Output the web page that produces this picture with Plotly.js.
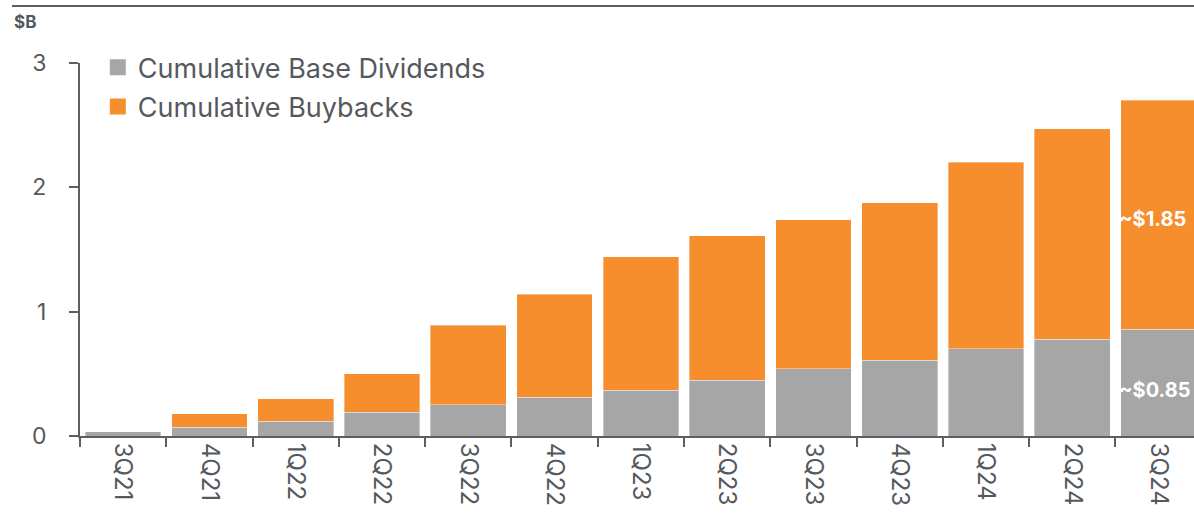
<!DOCTYPE html>
<html>
<head>
<meta charset="utf-8">
<script src="https://cdn.plot.ly/plotly-3.0.1.min.js"></script>
<style>html,body{margin:0;padding:0;background:#fff;}#chart{width:1194px;height:522px;}</style>
</head>
<body>
<div id="chart"></div>
<script>
const quarters = ["3Q21","4Q21","1Q22","2Q22","3Q22","4Q22","1Q23","2Q23","3Q23","4Q23","1Q24","2Q24","3Q24"];
const baseDividends = [0.035,0.07,0.12,0.19,0.25,0.31,0.37,0.45,0.54,0.61,0.70,0.78,0.86];
const buybacks = [0,0.11,0.18,0.31,0.64,0.83,1.07,1.16,1.20,1.265,1.50,1.69,1.84];
const seriesNames = ["Cumulative Base Dividends","Cumulative Buybacks"];
const yTicks = [0,1,2,3];
const labelDiv = "~$0.85";
const labelBuy = "~$1.85";

const GRAY = "#a6a6a6", ORANGE = "#f68e2d", TXT = "#55595e", AX = "#5b5e62";
const FONT = "Inter, 'Open Sans', sans-serif";

const traces = [
  {type:"bar", x:quarters, y:baseDividends, name:seriesNames[0], marker:{color:GRAY, line:{color:"rgba(255,255,255,0.6)", width:0.6}}, showlegend:false, hoverinfo:"skip"},
  {type:"bar", x:quarters, y:buybacks, name:seriesNames[1], marker:{color:ORANGE, line:{color:"rgba(255,255,255,0.6)", width:0.6}}, showlegend:false, hoverinfo:"skip"},
  {type:"scatter", mode:"markers", x:[null], y:[null], name:seriesNames[0], legendgroup:"a", marker:{symbol:"square", size:16, color:GRAY}},
  {type:"scatter", mode:"markers", x:[null], y:[null], name:seriesNames[1], legendgroup:"b", marker:{symbol:"square", size:16, color:ORANGE}}
];

const last = quarters.length - 1;
const layout = {
  width:1194, height:522,
  margin:{l:80, r:0, t:63, b:86, pad:0},
  barmode:"stack", bargap:0.123,
  paper_bgcolor:"#fff", plot_bgcolor:"#fff",
  font:{family:FONT, color:TXT},
  showlegend:true,
  legend:{x:0.016, y:1.053, xanchor:"left", yanchor:"top", font:{size:27, color:TXT, family:FONT}, tracegroupgap:1, traceorder:"grouped", bgcolor:"rgba(0,0,0,0)", itemclick:false},
  xaxis:{type:"category", range:[-0.5, 12.41], tickson:"boundaries", ticks:"outside", ticklen:9, tickwidth:2, tickcolor:AX,
         showline:true, linecolor:AX, linewidth:2, showgrid:false, zeroline:false, tickangle:90,
         tickfont:{size:24, color:TXT, family:FONT}, fixedrange:true},
  yaxis:{range:[0,3], tickvals:yTicks, ticks:"outside", ticklen:9, tickwidth:2, tickcolor:AX, showline:true, linecolor:AX, linewidth:2,
         showgrid:false, zeroline:false, tickfont:{size:23, color:TXT, family:FONT}, ticklabelstandoff:18, fixedrange:true},
  shapes:[{type:"line", xref:"paper", yref:"paper", x0:-0.061, x1:1, y0:1.153, y1:1.153, line:{color:AX, width:2}}],
  annotations:[
    {xref:"paper", yref:"paper", x:-0.061, y:1.11, xanchor:"left", yanchor:"middle", text:"<b>$B</b>", showarrow:false, font:{size:17, color:TXT, family:FONT}},
    {xref:"x", yref:"y", x:last, xshift:-42, y:baseDividends[last] + buybacks[last]*0.48, xanchor:"left", yanchor:"middle", text:"<b>"+labelBuy+"</b>", showarrow:false, font:{size:20, color:"#fff", family:FONT}},
    {xref:"x", yref:"y", x:last, xshift:-42, y:baseDividends[last]*0.43, xanchor:"left", yanchor:"middle", text:"<b>"+labelDiv+"</b>", showarrow:false, font:{size:20, color:"#fff", family:FONT}}
  ]
};
Plotly.newPlot("chart", traces, layout, {displayModeBar:false, staticPlot:true});
</script>
</body>
</html>
